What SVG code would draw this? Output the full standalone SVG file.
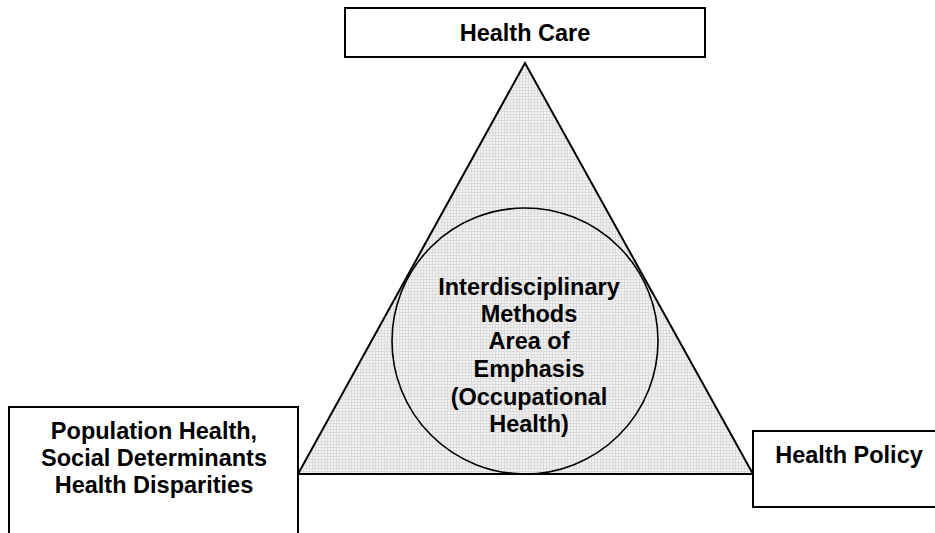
<svg xmlns="http://www.w3.org/2000/svg" width="935" height="533" viewBox="0 0 935 533">
  <style>
    .box { fill: #ffffff; stroke: #000000; stroke-width: 2; }
    .lbl { font-family: "Liberation Sans", Arial, sans-serif; font-weight: bold; font-size: 23.5px; fill: #000000; text-anchor: middle; }
  </style>
  <defs>
    <pattern id="dots" x="0" y="0" width="3" height="3" patternUnits="userSpaceOnUse">
      <rect width="3" height="3" fill="#f2f2f2"/>
      <rect width="1" height="3" fill="#dcdcdc"/>
      <rect width="3" height="1" fill="#dcdcdc"/>
    </pattern>
  </defs>
  <rect width="935" height="533" fill="#ffffff"/>
  <g id="connectors">
    <polygon points="525,63 298,474 753,474" fill="url(#dots)" stroke="#000000" stroke-width="2"/>
  </g>
  <g id="emphasis">
    <circle cx="525" cy="341" r="133" fill="none" stroke="#000000" stroke-width="1.6"/>
    <text class="lbl" x="529" y="295">Interdisciplinary</text>
    <text class="lbl" x="529" y="322">Methods</text>
    <text class="lbl" x="529" y="349">Area of</text>
    <text class="lbl" x="529" y="377">Emphasis</text>
    <text class="lbl" x="529" y="405">(Occupational</text>
    <text class="lbl" x="529" y="432">Health)</text>
  </g>
  <g id="health-care">
    <rect class="box" x="345" y="8" width="360" height="49"/>
    <text class="lbl" x="525" y="41">Health Care</text>
  </g>
  <g id="population-health">
    <rect class="box" x="9" y="407" width="289" height="140"/>
    <text class="lbl" x="154" y="439">Population Health,</text>
    <text class="lbl" x="154" y="466">Social Determinants</text>
    <text class="lbl" x="154" y="493">Health Disparities</text>
  </g>
  <g id="health-policy">
    <rect class="box" x="753" y="431" width="195" height="76"/>
    <text class="lbl" x="849" y="463">Health Policy</text>
  </g>
</svg>
